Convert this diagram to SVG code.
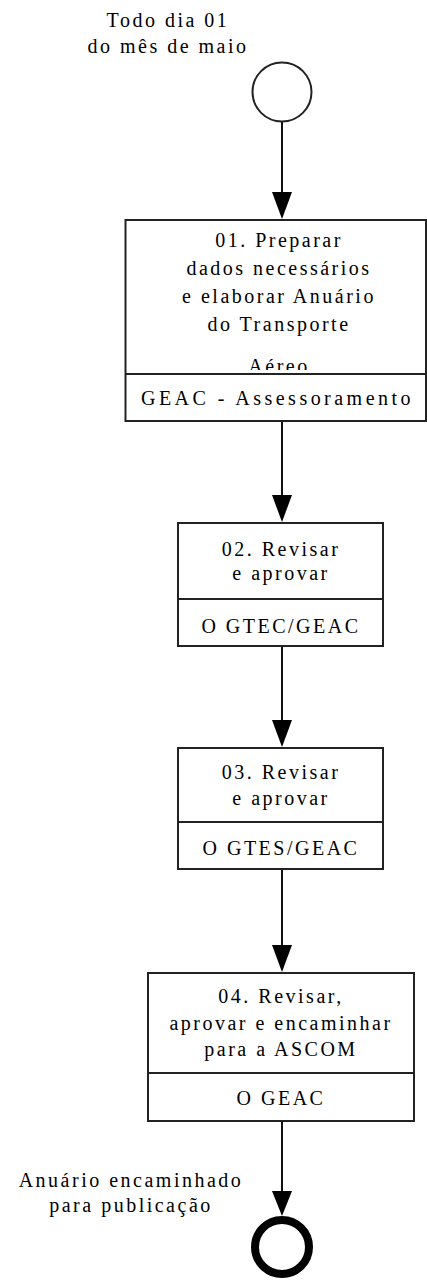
<svg xmlns="http://www.w3.org/2000/svg" width="427" height="1280" viewBox="0 0 427 1280">
  <style>
    .lbl { font-family: "Liberation Serif", "Times New Roman", serif; font-size: 20px; letter-spacing: 2.5px; fill: #000; text-anchor: middle; }
    .box { fill: #fff; stroke: #222; stroke-width: 2; }
    .div { stroke: #222; stroke-width: 2; }
    .edge { stroke: #111; stroke-width: 2; fill: none; }
    .head { fill: #000; }
  </style>
  <defs>
    <clipPath id="clip-t1"><rect x="126" y="221" width="300" height="149"/></clipPath>
  </defs>

  <!-- start event -->
  <g id="start">
    <text class="lbl" x="168" y="27">Todo dia 01</text>
    <text class="lbl" x="168" y="53">do mês de maio</text>
    <circle cx="282" cy="92" r="29.5" fill="#fff" stroke="#222" stroke-width="2"/>
  </g>

  <!-- task 01 -->
  <g id="task01">
    <rect class="box" x="125.5" y="220" width="300.5" height="201"/>
    <line class="div" x1="125.5" y1="374" x2="426" y2="374"/>
    <g clip-path="url(#clip-t1)">
      <text class="lbl" x="279" y="247">01. Preparar</text>
      <text class="lbl" x="279" y="275">dados necessários</text>
      <text class="lbl" x="279" y="303">e elaborar Anuário</text>
      <text class="lbl" x="279" y="331">do Transporte</text>
      <text class="lbl" x="279" y="373">Aéreo</text>
    </g>
    <text class="lbl" x="277" y="405" textLength="272" lengthAdjust="spacing">GEAC - Assessoramento</text>
  </g>

  <!-- task 02 -->
  <g id="task02">
    <rect class="box" x="178" y="523" width="205" height="123"/>
    <line class="div" x1="178" y1="599" x2="383" y2="599"/>
    <text class="lbl" x="281" y="556">02. Revisar</text>
    <text class="lbl" x="281" y="580">e aprovar</text>
    <text class="lbl" x="281" y="633">O GTEC/GEAC</text>
  </g>

  <!-- task 03 -->
  <g id="task03">
    <rect class="box" x="178" y="748" width="205" height="121"/>
    <line class="div" x1="178" y1="822" x2="383" y2="822"/>
    <text class="lbl" x="281" y="779">03. Revisar</text>
    <text class="lbl" x="281" y="805">e aprovar</text>
    <text class="lbl" x="281" y="855">O GTES/GEAC</text>
  </g>

  <!-- task 04 -->
  <g id="task04">
    <rect class="box" x="148" y="973" width="266" height="148"/>
    <line class="div" x1="148" y1="1073" x2="414" y2="1073"/>
    <text class="lbl" x="281" y="1003">04. Revisar,</text>
    <text class="lbl" x="281" y="1030">aprovar e encaminhar</text>
    <text class="lbl" x="281" y="1056">para a ASCOM</text>
    <text class="lbl" x="281" y="1105">O GEAC</text>
  </g>

  <!-- end event -->
  <g id="end">
    <text class="lbl" x="131" y="1187">Anuário encaminhado</text>
    <text class="lbl" x="131" y="1212">para publicação</text>
    <circle cx="282" cy="1247" r="27" fill="#fff" stroke="#000" stroke-width="8"/>
  </g>

  <!-- sequence flows -->
  <g id="connectors">
    <line class="edge" x1="282" y1="122" x2="282" y2="194"/>
    <polygon class="head" points="272,192 292,192 282,219"/>
    <line class="edge" x1="282" y1="422" x2="282" y2="497"/>
    <polygon class="head" points="272,495 292,495 282,522"/>
    <line class="edge" x1="282" y1="647" x2="282" y2="722"/>
    <polygon class="head" points="272,720 292,720 282,747"/>
    <line class="edge" x1="282" y1="870" x2="282" y2="947"/>
    <polygon class="head" points="272,945 292,945 282,972"/>
    <line class="edge" x1="282" y1="1122" x2="282" y2="1193"/>
    <polygon class="head" points="272,1191 292,1191 282,1216"/>
  </g>
</svg>
